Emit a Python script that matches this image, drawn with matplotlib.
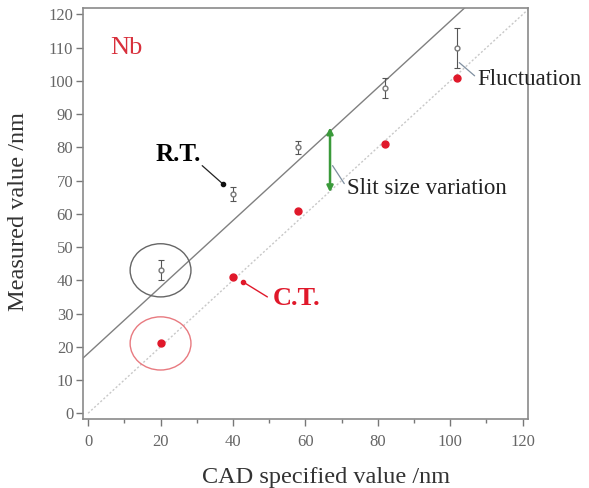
import matplotlib
matplotlib.use("Agg")
import matplotlib.pyplot as plt
from matplotlib.patches import Ellipse
import numpy as np

plt.rcParams['font.family'] = ['Liberation Serif', 'DejaVu Serif']

# Data
cad_x = [20, 40, 58, 82, 102]
rt_y = [43, 66, 80, 98, 110]
rt_err = [3, 2, 2, 3, 6]
ct_y = [21, 41, 61, 81, 101]
rt_offset = 18     # offset line y = x + 18
line_x = [-1.4, 122]

x_ticks = [0, 20, 40, 60, 80, 100, 120]
y_ticks = [0, 10, 20, 30, 40, 50, 60, 70, 80, 90, 100, 110, 120]

fig = plt.figure(figsize=(5.89, 4.88), dpi=100)
ax = fig.add_axes([0.141, 0.141, 0.755, 0.843])

ax.set_xlim(-1.4, 121.4)
ax.set_ylim(-1.8, 122)

# lines
ax.plot(line_x, [v + rt_offset for v in line_x], color='#808080', lw=1.0, zorder=2)
ax.plot([0, 122], [0, 122], color='#c8c8c8', lw=1.0, ls=(0, (1.5, 1.5)), zorder=2)

# R.T. points
ax.errorbar(cad_x, rt_y, yerr=rt_err, fmt='o', ms=3.5, mfc='white', mec='#777777',
            ecolor='#555555', elinewidth=0.8, capsize=2.5, capthick=0.8, zorder=4)
# C.T. points
ax.plot(cad_x, ct_y, 'o', ms=5, color='#e0182a', zorder=4)

# circles
ax.add_patch(Ellipse((20, 43), 16.8, 16.0, fill=False, ec='#666666', lw=1.0, zorder=3))
ax.add_patch(Ellipse((20, 21), 16.8, 16.0, fill=False, ec='#e87a80', lw=1.0, zorder=3))

# texts
ax.text(6, 110, 'Nb', color='#d8303c', fontsize=19, ha='left', va='center')

ax.text(25, 78, 'R.T.', fontsize=18, fontweight='bold', ha='center', va='center', color='black')
ax.annotate('', xy=(37.2, 69), xytext=(31.5, 74.5),
            arrowprops=dict(arrowstyle='-', color='#222222', lw=0.9, shrinkA=0, shrinkB=0))
ax.plot([37.2], [69], 'o', ms=3, color='#111111', zorder=5)

ax.text(57.5, 34.5, 'C.T.', fontsize=19, fontweight='bold', ha='center', va='center', color='#e0182a')
ax.annotate('', xy=(42.8, 39.5), xytext=(49.5, 35),
            arrowprops=dict(arrowstyle='-', color='#e0182a', lw=1.0, shrinkA=0, shrinkB=0))
ax.plot([42.8], [39.5], 'o', ms=3, color='#e0182a', zorder=5)

# slit size arrow
ax.annotate('', xy=(66.8, 86), xytext=(66.8, 66.5),
            arrowprops=dict(arrowstyle='<|-|>', color='#3a9a3a', lw=1.8,
                            mutation_scale=9, shrinkA=0, shrinkB=0))
ax.annotate('Slit size variation', xy=(67.5, 74.5), xytext=(71.5, 67.5),
            fontsize=16.5, ha='left', va='center', color='#222222',
            arrowprops=dict(arrowstyle='-', color='#7f8fa0', lw=0.9,
                            shrinkA=0, shrinkB=0, relpos=(0, 0.55)))

ax.annotate('Fluctuation', xy=(102.5, 105.5), xytext=(107.5, 100.5),
            fontsize=16.5, ha='left', va='center', color='#222222',
            annotation_clip=False,
            arrowprops=dict(arrowstyle='-', color='#7f8fa0', lw=0.9,
                            shrinkA=0, shrinkB=0, relpos=(0, 0.55)))

# axes style
for s in ax.spines.values():
    s.set_color('#8a8a8a')
    s.set_linewidth(1.2)

ax.set_xticks(x_ticks)
ax.set_yticks(y_ticks)
ax.set_xticks([10, 30, 50, 70, 90, 110], minor=True)
ax.tick_params(axis='both', which='major', direction='out', length=5, width=1.0,
               color='#777777', labelcolor='#666666', labelsize=12)
ax.tick_params(axis='x', which='minor', direction='out', length=3, width=1.0, color='#777777')
ax.tick_params(axis='y', pad=2)
ax.tick_params(axis='x', pad=6)

ax.set_xlabel('CAD specified value /nm', fontsize=17.5, color='#333333')
ax.set_ylabel('Measured value /nm', fontsize=17.5, color='#333333')
ax.xaxis.set_label_coords((326 - 83) / (528 - 83), -(477 - 419) / (419 - 8))
ax.yaxis.set_label_coords(-(83 - 18) / (528 - 83), (419 - 212) / (419 - 8))
ax.xaxis.label.set_va('center')
ax.yaxis.label.set_va('center')

fig.savefig('out.png', dpi=100)
